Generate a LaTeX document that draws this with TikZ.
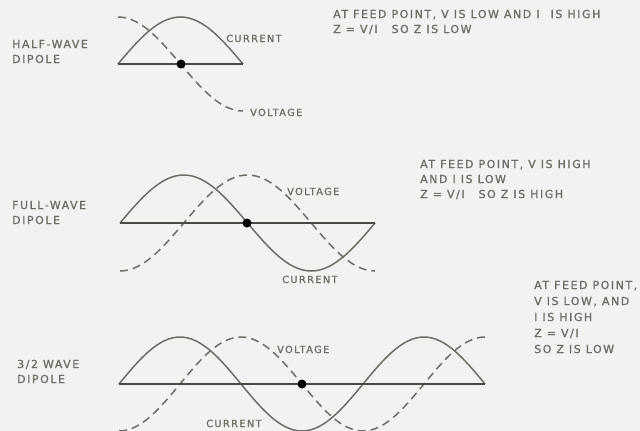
\documentclass[tikz,border=0pt]{standalone}
\usepackage{fontspec}
\setmainfont{DejaVu Sans}[LetterSpace=14, FakeBold=1.2]
\definecolor{bg}{HTML}{F2F2F2}
\definecolor{ink}{HTML}{6E6E66}
\definecolor{wave}{HTML}{6E6E68}
\definecolor{dip}{HTML}{4A4A44}
\tikzset{
  lbl/.style={anchor=base west, inner sep=0pt, text=ink, font=\fontsize{11}{15}\selectfont, align=left},
  clbl/.style={lbl, font=\fontsize{9.8}{15}\selectfont},
  cur/.style={draw=wave, line width=1.5pt},
  volt/.style={draw=wave, line width=1.5pt, dash pattern=on 8pt off 5pt},
  dipole/.style={draw=dip, line width=2.2pt},
  feed/.style={circle, fill=black, inner sep=0pt, minimum size=9pt}
}
\begin{document}
\begin{tikzpicture}[x=1pt,y=-1pt]
\fill[bg] (0,0) rectangle (640,431);
\useasboundingbox (0,0) rectangle (640,431);
\begin{scope}
\clip (0,0) rectangle (640,431);
% half-wave
\draw[volt] (118,17) cos (180.5,64) sin (243,111);
\draw[cur] (118,64) sin (180.5,17) cos (243,64);
\coordinate (h1) at (118,64); \coordinate (h2) at (243,64);
\draw[dipole] (h1) -- (h2);
\node[feed] (hf) at (181,64) {};
% full-wave
\draw[volt] (120,271) cos (183.75,223) sin (247.5,175) cos (311.25,223) sin (375,271);
\draw[cur] (120,223) sin (183.75,175) cos (247.5,223) sin (311.25,271) cos (375,223);
\coordinate (f1) at (120,223); \coordinate (f2) at (375,223);
\draw[dipole] (f1) -- (f2);
\node[feed] (ff) at (247,223) {};
% 3/2 wave
\draw[volt] (119,431) cos (180,384) sin (241,337) cos (302,384) sin (363,431) cos (424,384) sin (485,337);
\draw[cur] (119,384) sin (180,337) cos (241,384) sin (302,431) cos (363,384) sin (424,337) cos (485,384);
\coordinate (t1) at (119,384); \coordinate (t2) at (485,384);
\draw[dipole] (t1) -- (t2);
\node[feed] (tf) at (302,384) {};
\end{scope}
% left labels
\node[lbl] (hl) at (12,63) {HALF-WAVE\\DIPOLE};
\node[lbl] (fl) at (12,224) {FULL-WAVE\\DIPOLE};
\node[lbl] (tl) at (17,383) {3/2 WAVE\\DIPOLE};
% curve labels
\node[clbl] (hc) at (226,42) {CURRENT};
\node[clbl] (hv) at (250,116) {VOLTAGE};
\node[clbl] (fv) at (287,195) {VOLTAGE};
\node[clbl] (fc) at (282,283) {CURRENT};
\node[clbl] (tv) at (277,353) {VOLTAGE};
\node[clbl] (tc) at (206,427) {CURRENT};
% right notes
\node[lbl] (hn) at (333,33) {AT FEED POINT, V IS LOW AND I\hspace{6pt} IS HIGH\\Z = V/I\hspace{14pt}SO Z IS LOW};
\node[lbl] (fn) at (420,198) {AT FEED POINT, V IS HIGH\\AND I IS LOW\\Z = V/I\hspace{14pt}SO Z IS HIGH};
\node[lbl, font=\fontsize{11}{16}\selectfont] (tn) at (534,353) {AT FEED POINT,\\V IS LOW, AND\\I IS HIGH\\Z = V/I\\SO Z IS LOW};
\end{tikzpicture}
\end{document}
